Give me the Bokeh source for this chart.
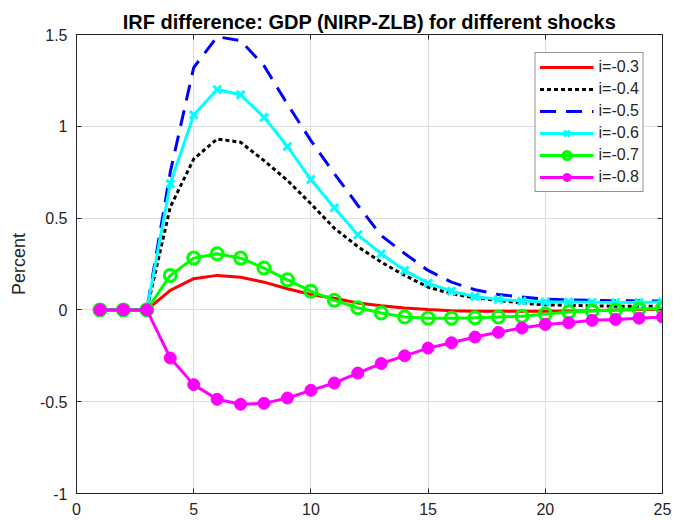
from bokeh.plotting import figure
from bokeh.models import (LinearAxis, FixedTicker, Range1d, Legend, LegendItem)
from bokeh.embed import file_html
from bokeh.resources import INLINE

# ---------------- data ----------------
periods = [1, 2, 3, 4, 5, 6, 7, 8, 9, 10, 11, 12, 13, 14, 15, 16, 17, 18, 19, 20, 21, 22, 23, 24, 25]

irf_03 = [0, 0, 0, 0.106, 0.170, 0.188, 0.178, 0.151, 0.115, 0.084, 0.063, 0.038, 0.022,
          0.010, 0.002, -0.004, -0.007, -0.008, -0.008, -0.008, -0.006, -0.004, -0.001, 0.002, 0.004]
irf_04 = [0, 0, 0, 0.560, 0.822, 0.931, 0.913, 0.813, 0.705, 0.578, 0.445, 0.345, 0.260,
          0.188, 0.124, 0.088, 0.066, 0.052, 0.037, 0.028, 0.025, 0.022, 0.020, 0.020, 0.020]
irf_05 = [0, 0, 0, 0.750, 1.320, 1.488, 1.466, 1.330, 1.120, 0.922, 0.742, 0.570, 0.405,
          0.307, 0.215, 0.151, 0.110, 0.084, 0.070, 0.059, 0.055, 0.052, 0.050, 0.050, 0.048]
irf_06 = [0, 0, 0, 0.687, 1.062, 1.200, 1.172, 1.049, 0.890, 0.710, 0.556, 0.409, 0.306,
          0.215, 0.146, 0.102, 0.073, 0.057, 0.048, 0.043, 0.043, 0.041, 0.040, 0.040, 0.043]
irf_07 = [0, 0, 0, 0.188, 0.282, 0.306, 0.282, 0.228, 0.164, 0.102, 0.052, 0.012, -0.017,
          -0.039, -0.045, -0.045, -0.043, -0.039, -0.034, -0.023, -0.012, -0.006, 0.000, 0.005, 0.008]
irf_08 = [0, 0, 0, -0.262, -0.407, -0.487, -0.514, -0.509, -0.480, -0.438, -0.398, -0.344, -0.292,
          -0.250, -0.208, -0.179, -0.148, -0.122, -0.099, -0.079, -0.070, -0.057, -0.052, -0.045, -0.039]

series_labels = ["i=-0.3", "i=-0.4", "i=-0.5", "i=-0.6", "i=-0.7", "i=-0.8"]

x_ticks = [0, 5, 10, 15, 20, 25]
x_tick_labels = ["0", "5", "10", "15", "20", "25"]
y_ticks = [-1, -0.5, 0, 0.5, 1, 1.5]
y_tick_labels = ["-1", "-0.5", "0", "0.5", "1", "1.5"]

title_text = "IRF difference: GDP (NIRP-ZLB) for different shocks"
y_label = "Percent"

# ---------------- figure ----------------
FONT = "Liberation Sans"
AX = "#262626"
GRID = "#dedede"

p = figure(width=673, height=522, output_backend="svg", toolbar_location=None,
           x_range=Range1d(0, 25), y_range=Range1d(-1, 1.5),
           min_border_left=76, min_border_right=11, min_border_top=34, min_border_bottom=29,
           x_axis_location=None, y_axis_location=None)
p.background_fill_color = "white"
p.border_fill_color = "white"
p.outline_line_color = AX
p.outline_line_width = 1


def key(v):
    return int(v) if float(v).is_integer() else v


def make_axis(ticks, labels, show_labels):
    if show_labels:
        overrides = {key(t): l for t, l in zip(ticks, labels)}
    else:
        overrides = {key(t): "" for t in ticks}
    ax = LinearAxis(ticker=FixedTicker(ticks=ticks), major_label_overrides=overrides)
    ax.axis_line_color = AX
    ax.major_tick_line_color = AX
    ax.major_tick_in = 5
    ax.major_tick_out = 0
    ax.minor_tick_line_color = None
    ax.major_label_text_font = FONT
    ax.major_label_text_color = AX
    if show_labels:
        ax.major_label_text_font_size = "16px"
        ax.major_label_standoff = 9
    else:
        ax.major_label_text_font_size = "1px"
        ax.major_label_standoff = 0
    return ax


xb = make_axis(x_ticks, x_tick_labels, True)
yl = make_axis(y_ticks, y_tick_labels, True)
yl.axis_label = y_label
yl.axis_label_text_font = FONT
yl.axis_label_text_font_size = "18px"
yl.axis_label_text_font_style = "normal"
yl.axis_label_text_color = AX
yl.axis_label_standoff = 8
xt = make_axis(x_ticks, x_tick_labels, False)
yr = make_axis(y_ticks, y_tick_labels, False)
p.add_layout(xb, "below")
p.add_layout(yl, "left")
p.add_layout(xt, "above")
p.add_layout(yr, "right")

p.xgrid.ticker = FixedTicker(ticks=x_ticks)
p.ygrid.ticker = FixedTicker(ticks=y_ticks)
p.xgrid.grid_line_color = GRID
p.ygrid.grid_line_color = GRID

p.title.text = title_text
p.title.align = "center"
p.title.text_font = FONT
p.title.text_font_size = "20px"
p.title.text_font_style = "bold"
p.title.text_color = "black"
p.title.standoff = 4

LW = 3
items = []

r = p.line(periods, irf_03, line_color="#ff0000", line_width=LW)
items.append(LegendItem(label=series_labels[0], renderers=[r]))

r = p.line(periods, irf_04, line_color="#000000", line_width=LW, line_dash="4 3")
items.append(LegendItem(label=series_labels[1], renderers=[r]))

r = p.line(periods, irf_05, line_color="#0000ff", line_width=LW, line_dash="16 10")
items.append(LegendItem(label=series_labels[2], renderers=[r]))

r1 = p.line(periods, irf_06, line_color="#00ffff", line_width=LW)
r2 = p.scatter(periods, irf_06, marker="x", size=11, line_color="#00ffff", line_width=3)
items.append(LegendItem(label=series_labels[3], renderers=[r1, r2]))

r1 = p.line(periods, irf_07, line_color="#00ff00", line_width=LW)
r2 = p.scatter(periods, irf_07, marker="circle", size=12, line_color="#00ff00",
               fill_color=None, line_width=3)
items.append(LegendItem(label=series_labels[4], renderers=[r1, r2]))

r1 = p.line(periods, irf_08, line_color="#ff00ff", line_width=LW)
r2 = p.scatter(periods, irf_08, marker="circle", size=12, line_color="#ff00ff",
               fill_color="#ff00ff", line_width=1)
items.append(LegendItem(label=series_labels[5], renderers=[r1, r2]))

legend = Legend(items=items, location="top_right")
legend.margin = 18
legend.padding = 4
legend.spacing = 2
legend.label_height = 20
legend.glyph_height = 20
legend.glyph_width = 54
legend.label_standoff = 5
legend.label_text_font = FONT
legend.label_text_font_size = "16px"
legend.label_text_color = AX
legend.border_line_color = AX
legend.border_line_width = 1
legend.background_fill_color = "white"
legend.background_fill_alpha = 1
p.add_layout(legend, "center")

open("out.html", "w").write(file_html(p, INLINE))
